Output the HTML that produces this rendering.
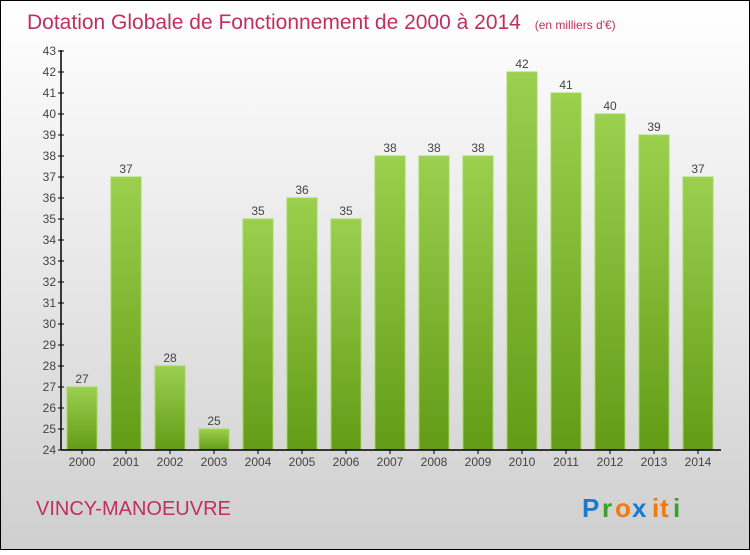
<!DOCTYPE html>
<html><head><meta charset="utf-8"><style>
html,body{margin:0;padding:0}
body{width:750px;height:550px;overflow:hidden;font-family:"Liberation Sans",sans-serif}
</style></head><body>
<svg width="750" height="550">
<defs>
<linearGradient id="bg" x1="0" y1="0" x2="0" y2="1"><stop offset="0" stop-color="#ffffff"/><stop offset="1" stop-color="#cfcfcf"/></linearGradient>
<linearGradient id="bar" x1="0" y1="0" x2="0" y2="1"><stop offset="0" stop-color="#9bd04e"/><stop offset="1" stop-color="#629c17"/></linearGradient>
</defs>
<rect x="0.5" y="0.5" width="749" height="549" fill="url(#bg)" stroke="#000"/>
<text x="27" y="29" font-size="21" fill="#c0305e">Dotation Globale de Fonctionnement de 2000 à 2014 <tspan font-size="12" dx="8">(en milliers d'€)</tspan></text>
<g id="yaxis"></g>
<g id="bars"></g>
<g id="xaxis"></g>
<text x="36" y="515" font-size="20" fill="#c0305e">VINCY-MANOEUVRE</text>
<g font-size="26" font-weight="bold">
<text x="582" y="517" fill="#1a7ad0">P</text><text x="602" y="517" fill="#3aa030">r</text><text x="615" y="517" fill="#f07a10">o</text><text x="632" y="517" fill="#1a7ad0">x</text><text x="652" y="517" fill="#f07a10">i</text><text x="660" y="517" fill="#f07a10">t</text><text x="673" y="517" fill="#3aa030">i</text>
</g>
</svg>
<script>
const categories=["2000","2001","2002","2003","2004","2005","2006","2007","2008","2009","2010","2011","2012","2013","2014"];
const values=[27,37,28,25,35,36,35,38,38,38,42,41,40,39,37];
const yTicks=[24,25,26,27,28,29,30,31,32,33,34,35,36,37,38,39,40,41,42,43];
const NS="http://www.w3.org/2000/svg";
const yMin=24,yMax=43,y0=450,y1=51;
const ys=v=>y0-(v-yMin)*(y0-y1)/(yMax-yMin);
const xs=i=>82+i*44;
function mk(t,a,p){const e=document.createElementNS(NS,t);for(const k in a)e.setAttribute(k,a[k]);p.appendChild(e);return e;}
const ya=document.getElementById('yaxis'),ba=document.getElementById('bars'),xa=document.getElementById('xaxis');
mk('line',{x1:61,y1:y1-1,x2:61,y2:y0,stroke:'#000','stroke-width':1.5},ya);
yTicks.forEach(v=>{
 mk('line',{x1:58,x2:64,y1:ys(v),y2:ys(v),stroke:'#000'},ya);
 const t=mk('text',{x:56,y:ys(v)+4,'font-size':12,fill:'#444','text-anchor':'end'},ya);
 
 
 t.textContent=v;
});
mk('line',{x1:61,x2:721,y1:y0,y2:y0,stroke:'#000','stroke-width':1.5},xa);
categories.forEach((c,i)=>{
 const x=xs(i),v=values[i];
 const r=mk('rect',{x:x-15,y:ys(v),width:30,height:y0-ys(v),fill:'url(#bar)',stroke:'#a6d862','stroke-width':1},ba);
 
 
 const l=mk('text',{x:x,y:ys(v)-4,'font-size':12,fill:'#444','text-anchor':'middle'},ba);
 
 
 l.textContent=v;
 mk('line',{x1:x,x2:x,y1:y0,y2:y0+4,stroke:'#000'},xa);
 const t=mk('text',{x:x,y:466,'font-size':12,fill:'#444','text-anchor':'middle'},xa);
 
 
 t.textContent=c;
});
</script>
</body></html>
